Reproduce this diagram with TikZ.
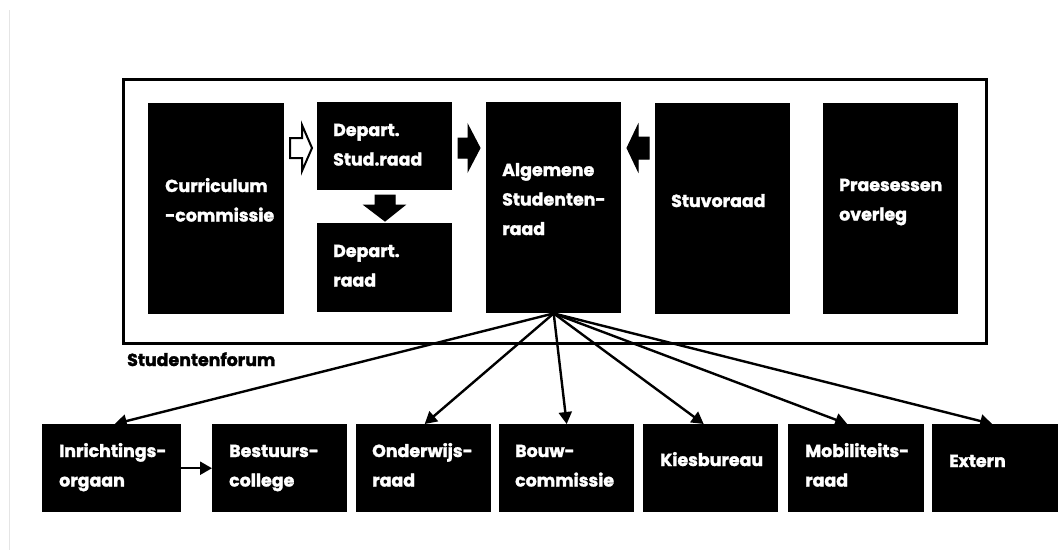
\documentclass[tikz,border=0pt]{standalone}
\usepackage{fontspec}
\setmainfont{Poppins}[BoldFeatures={FakeBold=1.6}]
\usetikzlibrary{arrows.meta,calc}
\newcommand{\lns}[1]{\begin{tabular}[t]{@{}l@{}}#1\end{tabular}}
\begin{document}
\begin{tikzpicture}[x=1pt,y=-1pt,
  box/.style={fill=black,inner sep=0pt,anchor=north west},
  txt/.style={text=white,anchor=base west,inner sep=0pt,font=\fontsize{17.4}{29.5}\selectfont\bfseries},
  conn/.style={line width=2.4pt,-{Triangle[length=12pt,width=13pt]}},
  blockarrow/.style={fill=black,draw=black,line width=1pt,line join=miter},
  hollowarrow/.style={fill=white,draw=black,line width=2pt,line join=miter}]
\useasboundingbox (0,0) rectangle (1058,550);
\fill[white] (0,0) rectangle (1058,550);
\draw[black!10,line width=0.8pt] (9.5,10) -- (9.5,550);

% Studentenforum frame
\node[draw,line width=3pt,inner sep=0pt,minimum width=863pt,minimum height=264pt,anchor=north west] (forum) at (122,78) {};
\node[anchor=base west,inner sep=0pt,font=\fontsize{17.4}{29.5}\selectfont\bfseries] (forumlbl) at ($(forum.south west)+(5,21)$) {Studentenforum};

% top row boxes
\node[box,minimum width=136pt,minimum height=211pt] (cc) at (148,103) {};
\node[box,minimum width=135pt,minimum height=88pt] (ds) at (317,102) {};
\node[box,minimum width=135pt,minimum height=89pt] (dr) at (317,223) {};
\node[box,minimum width=135pt,minimum height=211pt] (ag) at (486,102) {};
\node[box,minimum width=135pt,minimum height=211pt] (sv) at (655,103) {};
\node[box,minimum width=135pt,minimum height=211pt] (po) at (823,103) {};

\node[txt] (tcc) at ($(cc.north west)+(17,89)$) {\lns{Curriculum\\-commissie}};
\node[txt] (tds) at ($(ds.north west)+(16,34)$) {\lns{Depart.\\Stud.raad}};
\node[txt] (tdr) at ($(dr.north west)+(16,34)$) {\lns{Depart.\\raad}};
\node[txt] (tag) at ($(ag.north west)+(16,74)$) {\lns{Algemene\\Studenten-\\raad}};
\node[txt] (tsv) at ($(sv.north west)+(16,104)$) {Stuvoraad};
\node[txt] (tpo) at ($(po.north west)+(16,88)$) {\lns{Praesessen\\overleg}};

% block arrows
\draw[hollowarrow] (290,138) -- (302,138) -- (302,125) -- (312,148) -- (302,171) -- (302,158) -- (290,158) -- cycle;
\draw[blockarrow] (458,138) -- (468,138) -- (468,125) -- (480,148) -- (468,171) -- (468,158) -- (458,158) -- cycle;
\draw[blockarrow] (375,195) -- (395,195) -- (395,205) -- (405,205) -- (385,221) -- (364,205) -- (375,205) -- cycle;
\draw[blockarrow] (649,137) -- (638,137) -- (638,125) -- (627,148) -- (638,171) -- (638,159) -- (649,159) -- cycle;

% bottom row boxes
\node[box,minimum width=139pt,minimum height=88pt] (inr) at (42,424) {};
\node[box,minimum width=135pt,minimum height=88pt] (bc) at (212,424) {};
\node[box,minimum width=135pt,minimum height=88pt] (ow) at (356,424) {};
\node[box,minimum width=135pt,minimum height=88pt] (bw) at (499,424) {};
\node[box,minimum width=135pt,minimum height=88pt] (kb) at (643,424) {};
\node[box,minimum width=136pt,minimum height=88pt] (mr) at (788,424) {};
\node[box,minimum width=126pt,minimum height=88pt] (ex) at (932,424) {};

\node[txt] (tinr) at ($(inr.north west)+(17,33)$) {\lns{Inrichtings-\\orgaan}};
\node[txt] (tbc) at ($(bc.north west)+(17,33)$) {\lns{Bestuurs-\\college}};
\node[txt] (tow) at ($(ow.north west)+(16,33)$) {\lns{Onderwijs-\\raad}};
\node[txt] (tbw) at ($(bw.north west)+(16,33)$) {\lns{Bouw-\\commissie}};
\node[txt] (tkb) at ($(kb.north west)+(17,42)$) {Kiesbureau};
\node[txt] (tmr) at ($(mr.north west)+(17,33)$) {\lns{Mobiliteits-\\raad}};
\node[txt] (tex) at ($(ex.north west)+(17,43)$) {Extern};

% connectors
\draw[conn] (ag.south) -- ($(inr.north)+(3,0)$);
\draw[conn] (ag.south) -- ($(ow.north)+(1,0)$);
\draw[conn] (ag.south) -- (bw.north);
\draw[conn] (ag.south) -- ($(kb.north)+(-7,0)$);
\draw[conn] (ag.south) -- ($(mr.north)+(-9,0)$);
\draw[conn] (ag.south) -- ($(ex.north)+(-3,0)$);
\draw[conn] (inr.east) -- (bc.west);
\end{tikzpicture}
\end{document}
